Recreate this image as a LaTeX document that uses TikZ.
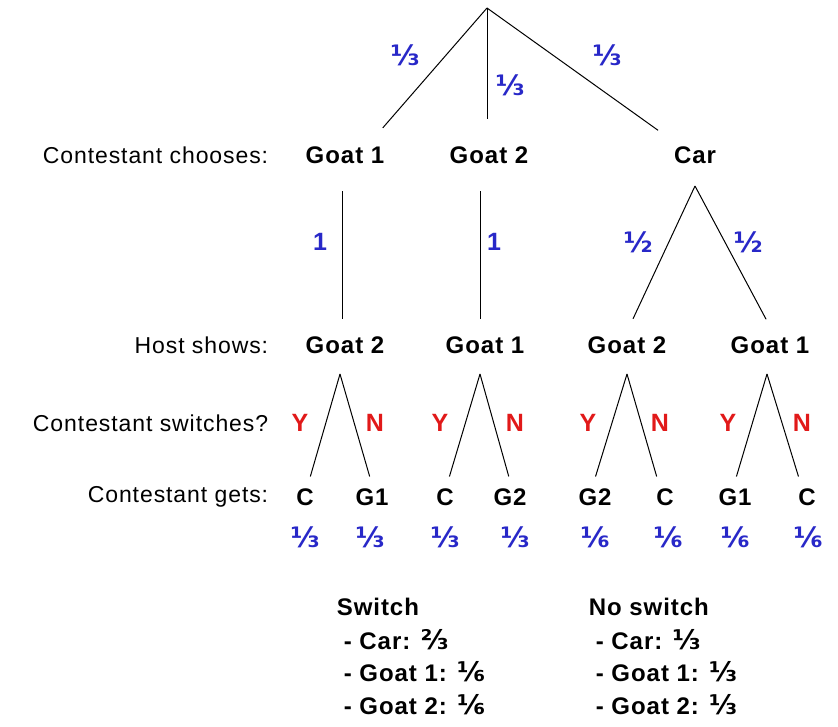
\documentclass[tikz,border=0pt]{standalone}
\usepackage{fontspec}
\setmainfont{Liberation Sans}[LetterSpace=4]
\newfontfamily\fracfont{DejaVu Sans}
\definecolor{probblue}{RGB}{40,40,200}
\definecolor{ynred}{RGB}{225,25,25}

\tikzset{
  choice/.style={font=\fontsize{24}{28}\selectfont\bfseries, inner sep=0pt, text height=17pt, text depth=0pt},
  rowlabel/.style={font=\fontsize{23}{27}\selectfont, anchor=east},
  prob/.style={font=\fontsize{28}{32}\selectfont\fracfont\bfseries, text=probblue},
  probnum/.style={font=\fontsize{25}{29}\selectfont\bfseries, text=probblue},
  yn/.style={font=\fontsize{25}{29}\selectfont\bfseries, text=ynred},
  summary/.style={font=\fontsize{24}{28}\selectfont\bfseries, anchor=west},
  down/.style={shorten <=27pt, shorten >=17pt},
  split/.style={shorten >=12pt},
}
\newcommand{\sfrac}[1]{{\fontsize{27}{28}\selectfont\fracfont #1}}

\begin{document}
\begin{tikzpicture}[x=1pt,y=-1pt,line width=1pt]
   \useasboundingbox (0,0) rectangle (838,726);

   % row labels
   \node[rowlabel] (rchoose) at (272,155) {Contestant chooses:};
   \node[rowlabel] (rhost) at (272,345) {Host shows:};
   \node[rowlabel] (rswitch) at (272,423) {Contestant switches?};
   \node[rowlabel] (rgets) at (272,497) {Contestant gets:};

   \coordinate (root) at (487,8);
   \node[choice] (g1) at (345,155) {Goat 1};
   \node[choice] (g2) at (489,155) {Goat 2};
   \node[choice] (car) at (695,155) {Car};

   \node[choice] (h1) at (345,345) {Goat 2};
   \node[choice] (h2) at (485,345) {Goat 1};
   \node[choice] (h3) at (627,345) {Goat 2};
   \node[choice] (h4) at (770,345) {Goat 1};

   \node[choice] (l1) at (305,497) {C};
   \node[choice] (l2) at (372,497) {G1};
   \node[choice] (l3) at (445,497) {C};
   \node[choice] (l4) at (510,497) {G2};
   \node[choice] (l5) at (595,497) {G2};
   \node[choice] (l6) at (665,497) {C};
   \node[choice] (l7) at (735,497) {G1};
   \node[choice] (l8) at (807,497) {C};

   % probabilities
   \node[prob] (pr1) at (405,55) {⅓};
   \node[prob] (pr2) at (510,85) {⅓};
   \node[prob] (pr3) at (607,55) {⅓};
   \node[probnum] (pg1) at (320,242) {1};
   \node[probnum] (pg2) at (494,242) {1};
   \node[prob] (pc1) at (638,242) {½};
   \node[prob] (pc2) at (748,242) {½};

   \node[prob] (p1) at (305,537) {⅓};
   \node[prob] (p2) at (370,537) {⅓};
   \node[prob] (p3) at (445,537) {⅓};
   \node[prob] (p4) at (515,537) {⅓};
   \node[prob] (p5) at (595,537) {⅙};
   \node[prob] (p6) at (668,537) {⅙};
   \node[prob] (p7) at (735,537) {⅙};
   \node[prob] (p8) at (808,537) {⅙};

   \node[yn] (y1) at (300,423) {Y};
   \node[yn] (n1) at (375,423) {N};
   \node[yn] (y2) at (440,423) {Y};
   \node[yn] (n2) at (515,423) {N};
   \node[yn] (y3) at (588,423) {Y};
   \node[yn] (n3) at (660,423) {N};
   \node[yn] (y4) at (728,423) {Y};
   \node[yn] (n4) at (802,423) {N};

   \draw[shorten >=24pt] (root) -- ([xshift=22pt]g1.north);
   \draw[shorten >=27pt] (root) -- (root |- g2.north);
   \draw[shorten >=27pt] (root) -- ([xshift=-15pt]car.north);

   \draw[down] ([xshift=-3pt]g1.south) -- ([xshift=-3pt]h1.north);
   \draw[down] ([xshift=-9pt]g2.south) -- ([xshift=-5pt]h2.north);
   \draw[shorten >=19pt] ([yshift=-22pt]car.south) -- ([xshift=-2pt]h3.north);
   \draw[shorten >=19pt] ([yshift=-22pt]car.south) -- ([xshift=5pt]h4.north);

   \draw[split] ([xshift=-5pt,yshift=-20pt]h1.south) -- ([xshift=2pt]l1.north);
   \draw[split] ([xshift=-5pt,yshift=-20pt]h1.south) -- ([xshift=1pt]l2.north);
   \draw[split] ([xshift=-5pt,yshift=-20pt]h2.south) -- ([xshift=1pt]l3.north);
   \draw[split] ([xshift=-5pt,yshift=-20pt]h2.south) -- ([xshift=2pt]l4.north);
   \draw[split] ([yshift=-20pt]h3.south) -- ([xshift=-3pt]l5.north);
   \draw[split] ([yshift=-20pt]h3.south) -- ([xshift=-5pt]l6.north);
   \draw[split] ([xshift=-3pt,yshift=-20pt]h4.south) -- ([xshift=-2pt]l7.north);
   \draw[split] ([xshift=-3pt,yshift=-20pt]h4.south) -- ([xshift=-5pt]l8.north);

   % totals
   \node[summary] (sw) at (333,607) {Switch};
   \node[summary] (sw1) at (340,640) {- Car: \sfrac{⅔}};
   \node[summary] (sw2) at (340,672) {- Goat 1: \sfrac{⅙}};
   \node[summary] (sw3) at (340,705) {- Goat 2: \sfrac{⅙}};
   \node[summary] (ns) at (585,607) {No switch};
   \node[summary] (ns1) at (592,640) {- Car: \sfrac{⅓}};
   \node[summary] (ns2) at (592,672) {- Goat 1: \sfrac{⅓}};
   \node[summary] (ns3) at (592,705) {- Goat 2: \sfrac{⅓}};
\end{tikzpicture}
\end{document}
